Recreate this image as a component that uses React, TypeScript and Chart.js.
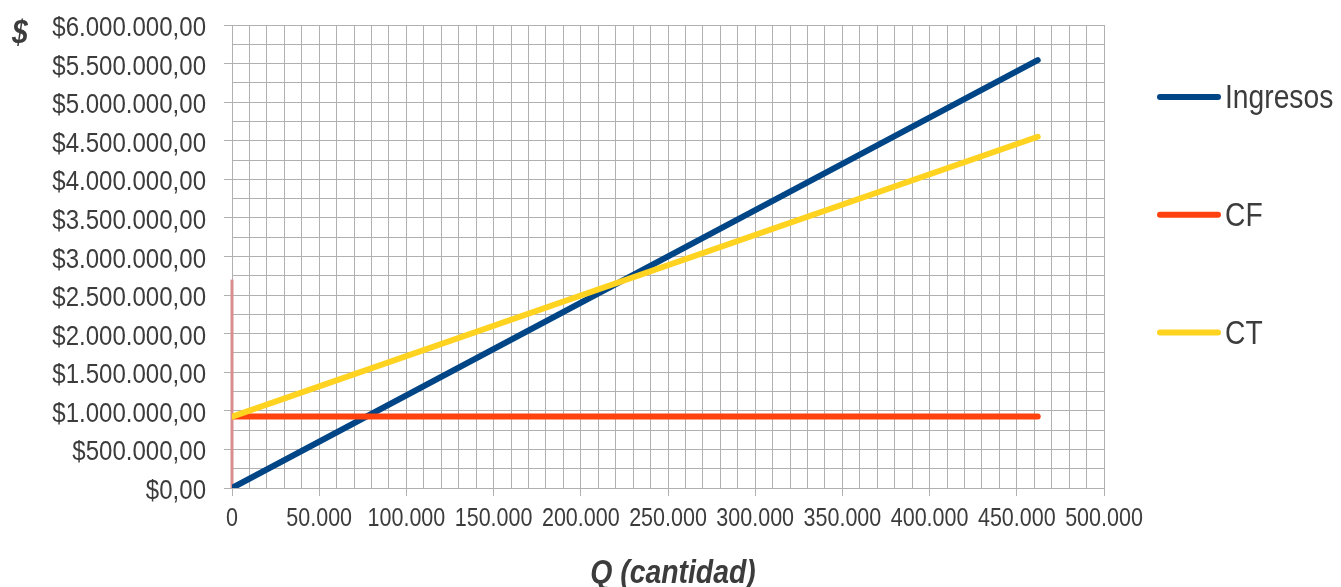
import React, { useEffect, useRef } from 'react';
import { Chart, registerables } from 'chart.js';

Chart.register(...registerables);

// ---- data ----
const quantities = [0, 462000];
const ingresos = [0, 5544000];
const costoFijo = [925000, 925000];
const costoTotal = [925000, 4552000];
const markerX = [0, 0];
const markerY = [0, 2700000];
const seriesNames = ['Ingresos', 'CF', 'CT'];
const seriesColors = ['#004586', '#ff420e', '#ffd320'];
const markerColor = '#d98e8e';
const xAxisTitle = 'Q (cantidad)';
const yAxisTitle = '$';
const xMax = 500000;
const xMinorStep = 10000;
const xMajorStep = 50000;
const yMax = 6000000;
const yMinorStep = 250000;
const yMajorStep = 500000;

const FONT = "'Liberation Sans', Arial, sans-serif";
const TEXT = '#3c3c3c';
const GRID = '#b0b0b0';

const thousands = (v: number) => String(Math.round(v)).replace(/\B(?=(\d{3})+(?!\d))/g, '.');
const money = (v: number) => '$' + thousands(v) + ',00';

const pts = (xs: number[], ys: number[]) => xs.map((x, i) => ({ x, y: ys[i] }));

function squeezedText(
  ctx: CanvasRenderingContext2D,
  text: string,
  x: number,
  y: number,
  font: string,
  align: CanvasTextAlign,
  sx: number,
) {
  ctx.save();
  ctx.translate(x, y);
  ctx.scale(sx, 1);
  ctx.font = font;
  ctx.textAlign = align;
  ctx.textBaseline = 'alphabetic';
  ctx.fillStyle = TEXT;
  ctx.fillText(text, 0, 0);
  ctx.restore();
}

const overlayPlugin = {
  id: 'overlay',
  afterDraw(chart: any) {
    const ctx: CanvasRenderingContext2D = chart.ctx;
    const area = chart.chartArea;
    const xs = chart.scales.x;
    const ys = chart.scales.y;
    // x tick labels
    xs.ticks.forEach((t: any) => {
      if (t.value % xMajorStep !== 0) return;
      squeezedText(ctx, thousands(t.value), xs.getPixelForValue(t.value), area.bottom + 37.5, `25px ${FONT}`, 'center', 0.86);
    });
    // y tick labels
    ys.ticks.forEach((t: any) => {
      if (t.value % yMajorStep !== 0) return;
      squeezedText(ctx, money(t.value), area.left - 26, ys.getPixelForValue(t.value) + 11, `27px ${FONT}`, 'right', 0.89);
    });
    // axis titles
    squeezedText(ctx, xAxisTitle, (area.left + area.right) / 2 + 5, area.bottom + 95, `italic bold 33px ${FONT}`, 'center', 0.86);
    squeezedText(ctx, yAxisTitle, 20, 43, `italic bold 33px ${FONT}`, 'center', 0.86);
    // legend
    const lx0 = area.right + 56;
    const lx1 = lx0 + 58;
    const ly0 = 97;
    const lstep = 117.8;
    seriesNames.forEach((name, i) => {
      const y = ly0 + i * lstep;
      ctx.save();
      ctx.strokeStyle = seriesColors[i];
      ctx.lineWidth = 6;
      ctx.lineCap = 'round';
      ctx.beginPath();
      ctx.moveTo(lx0, y);
      ctx.lineTo(lx1, y);
      ctx.stroke();
      ctx.restore();
      squeezedText(ctx, name, lx1 + 7, y + 11, `34px ${FONT}`, 'left', 0.83);
    });
  },
};

export default function App() {
  const ref = useRef<HTMLCanvasElement>(null);
  useEffect(() => {
    document.body.style.margin = '0';
    const canvas = ref.current!;
    const lineDs = (label: string, data: any[], color: string, order: number, width = 6) => ({
      label,
      data,
      borderColor: color,
      backgroundColor: color,
      borderWidth: width,
      borderCapStyle: 'round' as const,
      showLine: true,
      pointRadius: 0,
      pointHoverRadius: 0,
      fill: false,
      order,
    });
    const chart = new Chart(canvas, {
      type: 'scatter',
      data: {
        datasets: [
          lineDs(seriesNames[0], pts(quantities, ingresos), seriesColors[0], 3),
          lineDs(seriesNames[1], pts(quantities, costoFijo), seriesColors[1], 2),
          lineDs(seriesNames[2], pts(quantities, costoTotal), seriesColors[2], 1),
          { ...lineDs('', pts(markerX, markerY), markerColor, 4, 3), borderCapStyle: 'butt' as const, clip: false as const },
        ],
      },
      options: {
        animation: false,
        responsive: false,
        maintainAspectRatio: false,
        layout: { padding: { top: 25, right: 237, left: 0, bottom: 0 } },
        plugins: {
          legend: { display: false },
          tooltip: { enabled: false },
          title: { display: false },
        },
        scales: {
          x: {
            type: 'linear',
            min: 0,
            max: xMax,
            afterFit: (s: any) => { s.height = 99; },
            ticks: {
              stepSize: xMinorStep,
              autoSkip: false,
              display: false,
            },
            grid: {
              color: GRID,
              lineWidth: 1,
              tickLength: 8,
              tickColor: (c: any) => (c.tick && c.tick.value % xMajorStep === 0 ? GRID : 'rgba(0,0,0,0)'),
            },
            border: { color: GRID, width: 1 },
          },
          y: {
            type: 'linear',
            min: 0,
            max: yMax,
            afterFit: (s: any) => { s.width = 232; },
            ticks: {
              stepSize: yMinorStep,
              autoSkip: false,
              display: false,
            },
            grid: {
              color: GRID,
              lineWidth: 1,
              tickLength: 8,
              tickColor: (c: any) => (c.tick && c.tick.value % yMajorStep === 0 ? GRID : 'rgba(0,0,0,0)'),
            },
            border: { color: GRID, width: 1 },
          },
        },
      },
      plugins: [overlayPlugin],
    });
    return () => chart.destroy();
  }, []);
  return (
    <div style={{ width: 1341, height: 587, background: '#fff' }}>
      <canvas ref={ref} width={1341} height={587} style={{ display: 'block', width: 1341, height: 587 }} />
    </div>
  );
}
